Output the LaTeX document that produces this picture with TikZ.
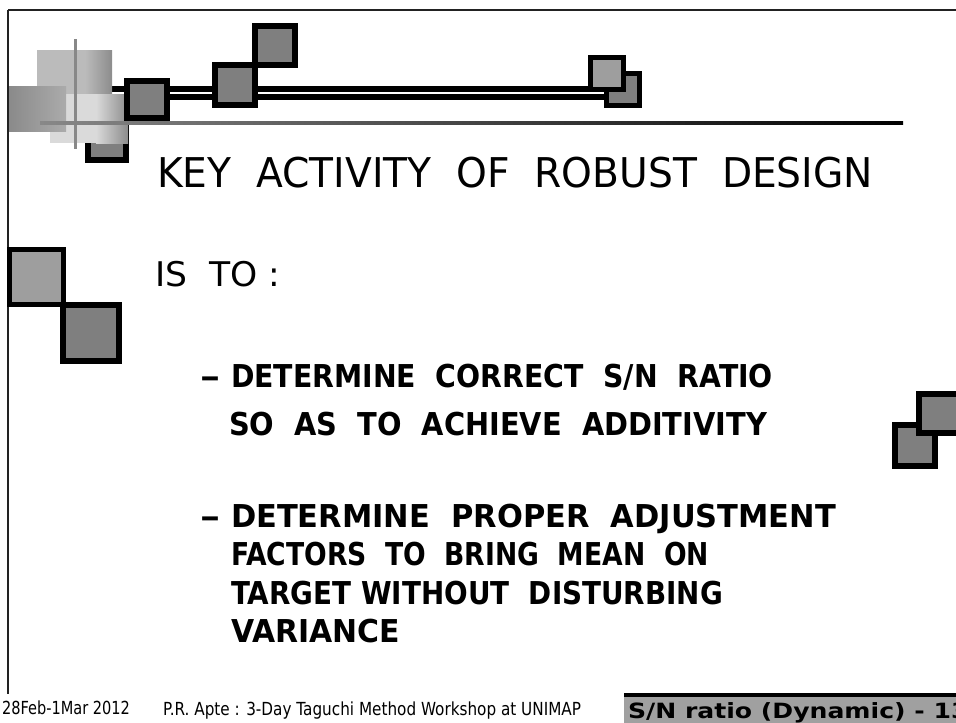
\documentclass[tikz,border=0pt]{standalone}
\usepackage{graphicx}
\usepackage{fontspec}
\setmainfont{DejaVu Sans}

\definecolor{sqfill}{HTML}{7F7F7F}
\definecolor{sqlight}{HTML}{9E9E9E}
\definecolor{framegray}{HTML}{222222}
\definecolor{gridgray}{HTML}{888888}
\definecolor{tileA}{HTML}{BBBBBB}
\definecolor{tileB}{HTML}{DADADA}
\definecolor{tileDarkL}{HTML}{8A8A8A}
\definecolor{tileDarkR}{HTML}{ABABAB}
\definecolor{tileEdge}{HTML}{8C8C8C}
\definecolor{footgray}{HTML}{A0A0A0}

\tikzset{
  sq/.style={draw=black, line width=6pt, fill=sqfill},
  sqthin/.style={draw=black, line width=5pt, fill=sqfill},
  rail/.style={draw=black, line width=6pt},
  txt/.style={anchor=base west, inner sep=0pt, outer sep=0pt},
}

\newsavebox\probebox
\newlength\probew
\newcommand{\fsz}[1]{\fontsize{#1}{#1}\selectfont}
% bold body line stretched to a given width
\newcommand{\bodyline}[2]{\resizebox{#1}{\height}{\bfseries\fsz{31.5}#2}}

\begin{document}
% horizontal scale factors for the condensed lettering
\sbox\probebox{\fsz{41}KEY~~ACTIVITY~~OF~~ROBUST~~DESIGN}%
\setlength\probew{\wd\probebox}%
\pgfmathsetmacro\rsx{716/\probew}%
\sbox\probebox{\bfseries\fsz{21}S/N ratio (Dynamic) - 1}%
\setlength\probew{\wd\probebox}%
\pgfmathsetmacro\fsx{323/\probew}%
\begin{tikzpicture}[x=1pt,y=-1pt]
\useasboundingbox (0,0) rectangle (956,723);
\clip (0,0) rectangle (956,723);

% slide frame
\draw[framegray, line width=2pt] (8,10) -- (956,10);
\draw[framegray, line width=1.6pt] (8,10) -- (8,694);

% double rail along the top
\draw[rail] (100,89) -- (610,89);
\draw[rail] (100,96.5) -- (610,96.5);

% square hidden under the tiles
\draw[sq] (88,123) rectangle (126,160);

% translucent tiles in the corner
\fill[tileA] (37,50) rectangle (85,95);
\shade[left color=tileA, right color=tileEdge] (85,50) rectangle (112,95);
\fill[tileB] (50,94) rectangle (96,143);
\shade[left color=tileB, right color=tileEdge] (96,94) rectangle (128,143);
\shade[left color=tileDarkL, right color=tileDarkR] (9,86) rectangle (66,131);

% squares on the rail
\draw[sq] (127,81) rectangle (167,118);
\draw[sq] (255,26) rectangle (295,65);
\draw[sq] (215,65) rectangle (255,105);
\draw[sqthin] (606.5,73.5) rectangle (639.5,105.5);
\draw[sqthin, fill=sqlight] (590.5,57.5) rectangle (623.5,89.5);

% grey guide lines
\draw[gridgray, line width=3pt] (75,39) -- (75,149);
\shade[left color=gridgray, right color=black] (40,121.5) rectangle (903,124.5);

% squares on the left edge
\draw[sqthin, fill=sqlight] (9.5,249.5) rectangle (63.5,304.5);
\draw[sq] (63,305) rectangle (119,361);

% squares on the right edge
\draw[sq] (895,425) rectangle (935,466);
\draw[sq] (919,394) rectangle (959,433);

% heading and body text
\node[txt] (title) at (157,187) {\scalebox{\rsx}[1]{\fsz{41}KEY~~ACTIVITY~~OF~~ROBUST~~DESIGN}};
\node[txt] (isto) at (155,286) {\resizebox{125pt}{\height}{\fsz{34}IS~~TO~:}};

\node[txt] (dashA) at (200,387) {\resizebox{20pt}{\height}{\bfseries\fsz{31.5}–}};
\node[txt] (a1) at (231,387) {\bodyline{542pt}{DETERMINE~~CORRECT~~S/N~~RATIO}};
\node[txt] (a2) at (229,435) {\bodyline{538pt}{SO~~AS~~TO~~ACHIEVE~~ADDITIVITY}};

\node[txt] (dashB) at (200,527) {\resizebox{20pt}{\height}{\bfseries\fsz{31.5}–}};
\node[txt] (b1) at (231,527) {\bodyline{605pt}{DETERMINE~~PROPER~~ADJUSTMENT}};
\node[txt] (b2) at (231,565.5) {\bodyline{478pt}{FACTORS~~TO~~BRING~~MEAN~~ON}};
\node[txt] (b3) at (231,604) {\bodyline{492pt}{TARGET~WITHOUT~~DISTURBING}};
\node[txt] (b4) at (231,642.5) {\bodyline{169pt}{VARIANCE}};

% footer
\fill[footgray] (624,693) rectangle (960,726);
\fill[black] (624,692.5) rectangle (960,697);
\node[txt] (date) at (2,714) {\resizebox{128pt}{\height}{\fsz{18}28Feb-1Mar 2012}};
\node[txt] (author) at (163,715) {\resizebox{418pt}{\height}{\fsz{18}P.R. Apte : 3-Day Taguchi Method Workshop at UNIMAP}};
\node[txt] (slideno) at (628,718) {\scalebox{\fsx}[1]{\bfseries\fsz{21}S/N ratio (Dynamic) - 13}};
\end{tikzpicture}
\end{document}
